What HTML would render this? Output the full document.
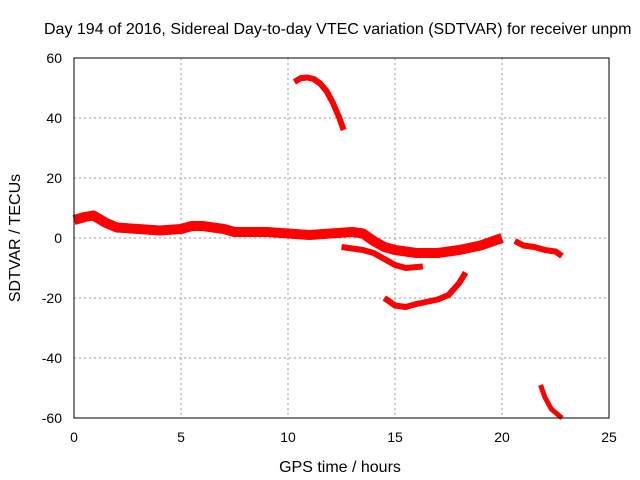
<!DOCTYPE html>
<html><head><meta charset="utf-8"><style>body{margin:0;background:#fff}svg{display:block;font-family:"Liberation Sans",sans-serif}</style></head>
<body>
<svg id="c" width="640" height="480">
<text x="44" y="34" font-size="16">Day 194 of 2016, Sidereal Day-to-day VTEC variation (SDTVAR) for receiver unpm</text>
<text x="340" y="472" font-size="16" text-anchor="middle">GPS time / hours</text>
<text transform="translate(20,238) rotate(-90)" font-size="16" text-anchor="middle">SDTVAR / TECUs</text>
<g id="grid"></g><g id="data"></g>
<rect x="74" y="58" width="535" height="360" fill="none" stroke="#000"/>
</svg>
<script>
const xTicks=[0,5,10,15,20,25];
const yTicks=[-60,-40,-20,0,20,40,60];
const seg1H=[0,0.5,0.9,1.5,2,3,4,5,5.5,6,7,7.5,8,9,10,11,12,13,13.5,14,14.5,15,16,17,18,19,20];
const seg1V=[6,7,7.5,5,3.5,3,2.5,3,4,4,3,2,2,2,1.5,1,1.5,2,1.5,-1,-3,-4,-5,-5,-4,-2.5,0];
const seg2H=[12.5,13.5,14,14.5,15,15.5,16.3];
const seg2V=[-3,-4,-5,-7,-9,-10,-9.5];
const seg3H=[10.3,10.6,10.9,11.2,11.5,11.8,12.1,12.4,12.6];
const seg3V=[52,53.3,53.5,53,51.5,49,45,40,36];
const seg4H=[14.5,15,15.5,16,17,17.5,18,18.3];
const seg4V=[-20,-22.5,-23,-22,-20.5,-19,-15,-11.5];
const seg5H=[20.6,21,21.5,22,22.5,22.8];
const seg5V=[-1,-2.5,-3,-4,-4.5,-6];
const seg6H=[21.8,22,22.3,22.8];
const seg6V=[-49,-53,-57,-60];
const X=h=>74+h*21.4, Y=v=>238-v*3;
const NS="http://www.w3.org/2000/svg";
const svg=document.getElementById('c'),grid=document.getElementById('grid'),data=document.getElementById('data');
function mk(t,a,p){const e=document.createElementNS(NS,t);for(const k in a)e.setAttribute(k,a[k]);p.appendChild(e);return e;}
xTicks.forEach(t=>{
 if(t>0&&t<25){const l=mk('line',{x1:X(t),x2:X(t),y1:58,y2:418,stroke:'#999','stroke-dasharray':'2,3'},grid);
 
 }
 const tx=mk('text',{x:X(t),y:442,'font-size':14,'text-anchor':'middle'},svg);tx.textContent=t;
 
 
});
yTicks.forEach(t=>{
 if(t>-60&&t<60){const l=mk('line',{x1:74,x2:609,y1:Y(t),y2:Y(t),stroke:'#999','stroke-dasharray':'2,3'},grid);
 
 }
 const tx=mk('text',{x:62,y:Y(t)+5,'font-size':14,'text-anchor':'end'},svg);tx.textContent=t;
 
 
});
const segs=[[seg1H,seg1V,10],[seg2H,seg2V,6],[seg3H,seg3V,6],[seg4H,seg4V,6],[seg5H,seg5V,6],[seg6H,seg6V,5]];
segs.forEach((s,i)=>{
 const pts=s[0].map((h,j)=>X(h)+','+Y(s[1][j])).join(' ');
 const p=mk('polyline',{points:pts,fill:'none',stroke:'#f00','stroke-width':s[2],'stroke-linejoin':'round'},data);
 
 
});
</script>
</body></html>
